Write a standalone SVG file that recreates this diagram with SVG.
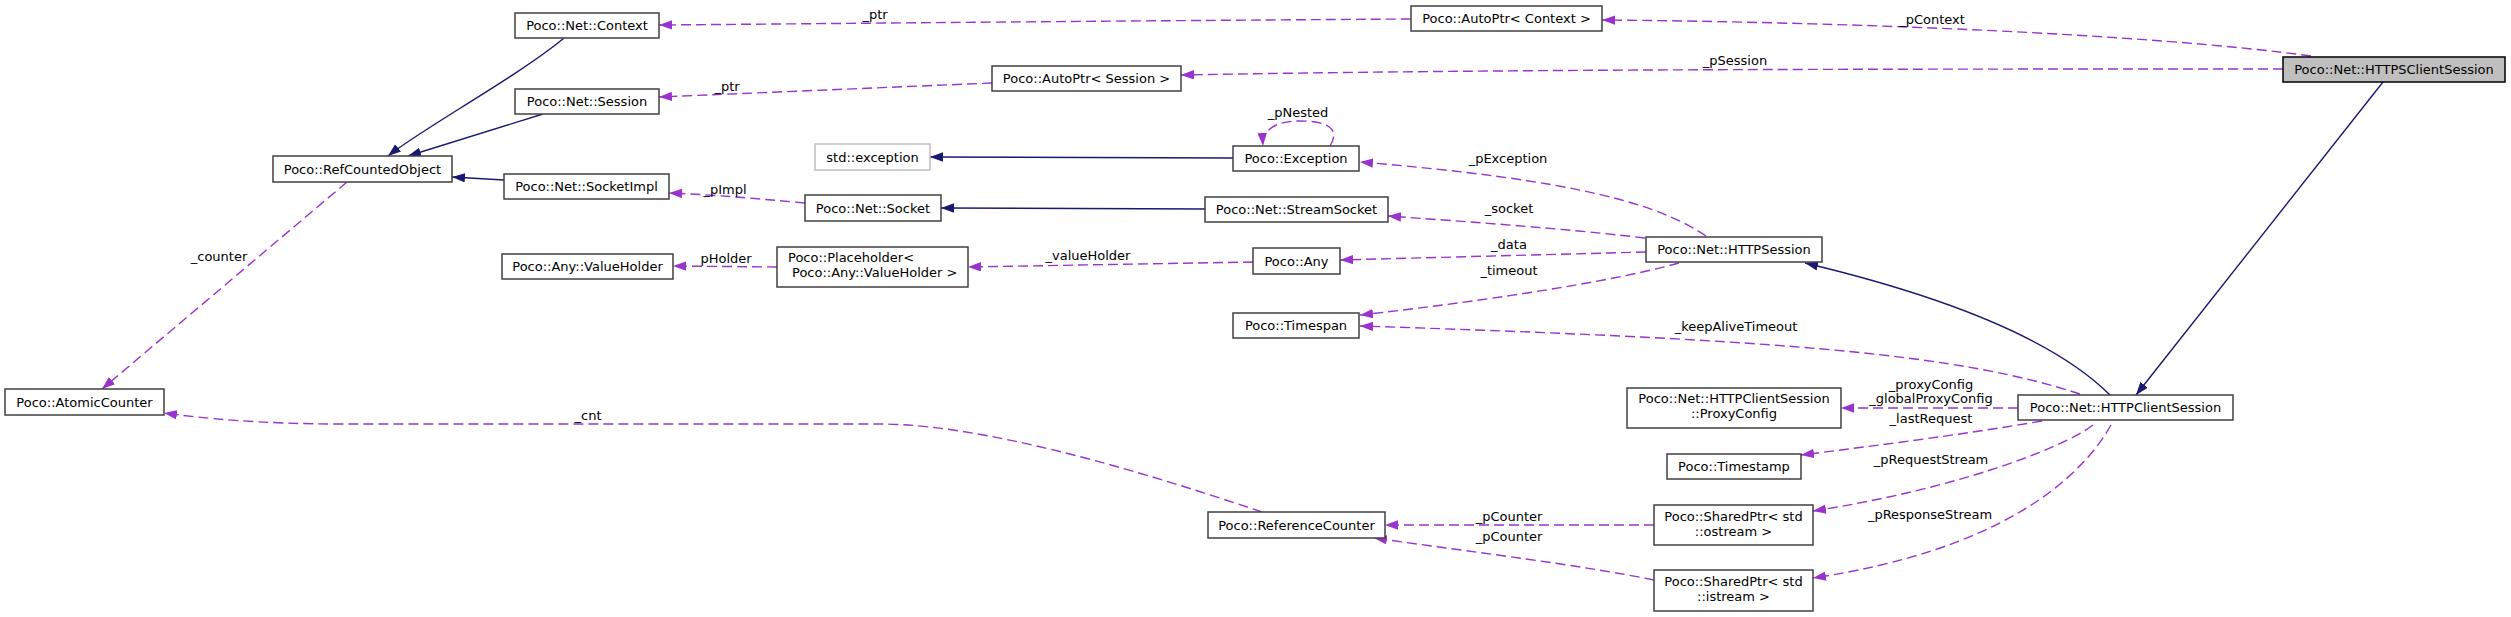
<svg xmlns="http://www.w3.org/2000/svg" width="2511" height="617" viewBox="0 0 2511 617">
<style>
  .n rect { fill: #ffffff; stroke: #404040; stroke-width: 1.5; }
  .n text, .lbl { font-family: "DejaVu Sans", "Liberation Sans", sans-serif; font-size: 13px; fill: #000000; }
  .n text { text-anchor: middle; }
  .lbl { text-anchor: middle; }
  .ext rect { stroke: #bfbfbf; }
  .root rect { fill: #bfbfbf; stroke: #000000; }
  .inh { fill: none; stroke: #191970; stroke-width: 1.4; marker-end: url(#ah-blue); }
  .use { fill: none; stroke: #9a32cd; stroke-width: 1.4; stroke-dasharray: 10,5; marker-end: url(#ah-purple); }
</style>
<defs>
  <marker id="ah-blue" markerUnits="userSpaceOnUse" markerWidth="14" markerHeight="10" refX="13" refY="4.7" orient="auto">
    <path d="M0,0 L13,4.7 L0,9.4 z" fill="#191970"/>
  </marker>
  <marker id="ah-purple" markerUnits="userSpaceOnUse" markerWidth="14" markerHeight="10" refX="13" refY="4.7" orient="auto">
    <path d="M0,0 L13,4.7 L0,9.4 z" fill="#9a32cd"/>
  </marker>
</defs>
<rect x="0" y="0" width="2511" height="617" fill="#ffffff"/>

<g id="connectors">
  <path class="use" d="M347,182 L102,389"/>
  <path class="inh" d="M564,38 C520,75 420,130 388,156"/>
  <path class="inh" d="M543,114 L408,156"/>
  <path class="inh" d="M504,180 L452,177"/>
  <path class="use" d="M1411,19 C1100,21 900,23 659,25"/>
  <path class="use" d="M992,83 L659,97"/>
  <path class="use" d="M2311,56 C2150,34 1850,22 1602,20"/>
  <path class="use" d="M2283,69 C1900,69 1500,69 1181,75"/>
  <path class="inh" d="M2383,82 L2136,395"/>
  <path class="inh" d="M2110,395 C2060,345 1960,300 1805,263"/>
  <path class="inh" d="M1233,158 L930,157"/>
  <path class="inh" d="M1205,209 L941,208"/>
  <path class="use" d="M1330,146 C1340,130 1330,121 1300,121 C1275,121 1262,130 1263,146"/>
  <path class="use" d="M1706,236 C1660,205 1580,180 1360,162"/>
  <path class="use" d="M1645,238 C1560,228 1470,222 1388,216"/>
  <path class="use" d="M1646,252 L1340,260"/>
  <path class="use" d="M1679,263 C1600,285 1450,305 1360,315"/>
  <path class="use" d="M2080,394 C1960,355 1800,340 1360,326"/>
  <path class="use" d="M1253,262 L968,267"/>
  <path class="use" d="M777,267 L673,266"/>
  <path class="use" d="M805,203 C760,199 720,195 669,193"/>
  <path class="use" d="M2018,408 L1841,408"/>
  <path class="use" d="M2042,421 C1960,435 1880,445 1801,455"/>
  <path class="use" d="M2093,425 C2060,450 1950,490 1813,511"/>
  <path class="use" d="M2111,425 C2080,480 2000,550 1813,578"/>
  <path class="use" d="M1654,525 L1385,525"/>
  <path class="use" d="M1654,580 C1580,565 1480,553 1374,538"/>
  <path class="use" d="M1262,512 C1190,488 1000,424 880,424 L340,424 C260,424 200,418 164,413"/>

  <text class="lbl" x="219" y="261">_counter</text>
  <text class="lbl" x="875" y="19">_ptr</text>
  <text class="lbl" x="727" y="91">_ptr</text>
  <text class="lbl" x="1932" y="24">_pContext</text>
  <text class="lbl" x="1735" y="65">_pSession</text>
  <text class="lbl" x="1298" y="117">_pNested</text>
  <text class="lbl" x="1508" y="163">_pException</text>
  <text class="lbl" x="725" y="194">_pImpl</text>
  <text class="lbl" x="1509" y="213">_socket</text>
  <text class="lbl" x="1509" y="249">_data</text>
  <text class="lbl" x="1088" y="260">_valueHolder</text>
  <text class="lbl" x="726" y="263">pHolder</text>
  <text class="lbl" x="1509" y="275">_timeout</text>
  <text class="lbl" x="1736" y="331">_keepAliveTimeout</text>
  <text class="lbl" x="1931" y="389">_proxyConfig</text>
  <text class="lbl" x="1931" y="403">_globalProxyConfig</text>
  <text class="lbl" x="588" y="420">_cnt</text>
  <text class="lbl" x="1931" y="423">_lastRequest</text>
  <text class="lbl" x="1931" y="464">_pRequestStream</text>
  <text class="lbl" x="1930" y="519">_pResponseStream</text>
  <text class="lbl" x="1509" y="521">_pCounter</text>
  <text class="lbl" x="1509" y="541">_pCounter</text>
</g>

<g id="node-AtomicCounter" class="n"><rect x="5" y="389" width="159" height="26"/><text x="84.5" y="406.5">Poco::AtomicCounter</text></g>
<g id="node-RefCountedObject" class="n"><rect x="273" y="156" width="179" height="26"/><text x="362.5" y="173.5">Poco::RefCountedObject</text></g>
<g id="node-Context" class="n"><rect x="515" y="13" width="144" height="25"/><text x="587" y="30">Poco::Net::Context</text></g>
<g id="node-Session" class="n"><rect x="515" y="89" width="144" height="25"/><text x="587" y="106">Poco::Net::Session</text></g>
<g id="node-SocketImpl" class="n"><rect x="504" y="174" width="165" height="25"/><text x="586.5" y="191">Poco::Net::SocketImpl</text></g>
<g id="node-AnyValueHolder" class="n"><rect x="502" y="254" width="171" height="25"/><text x="587.5" y="271">Poco::Any::ValueHolder</text></g>
<g id="node-Placeholder" class="n"><rect x="777" y="247" width="191" height="40"/><text x="788" y="262" style="text-anchor:start">Poco::Placeholder&lt;</text><text x="792" y="277" style="text-anchor:start">Poco::Any::ValueHolder &gt;</text></g>
<g id="node-AutoPtrContext" class="n"><rect x="1411" y="6" width="191" height="25"/><text x="1506.5" y="23">Poco::AutoPtr&lt; Context &gt;</text></g>
<g id="node-AutoPtrSession" class="n"><rect x="992" y="66" width="189" height="25"/><text x="1086.5" y="83">Poco::AutoPtr&lt; Session &gt;</text></g>
<g id="node-stdexception" class="n ext"><rect x="815" y="144" width="115" height="26"/><text x="872.5" y="161.5">std::exception</text></g>
<g id="node-Exception" class="n"><rect x="1233" y="146" width="126" height="25"/><text x="1296" y="163">Poco::Exception</text></g>
<g id="node-Socket" class="n"><rect x="805" y="195" width="136" height="26"/><text x="873" y="212.5">Poco::Net::Socket</text></g>
<g id="node-StreamSocket" class="n"><rect x="1205" y="197" width="183" height="25"/><text x="1296.5" y="214">Poco::Net::StreamSocket</text></g>
<g id="node-Any" class="n"><rect x="1253" y="248" width="87" height="26"/><text x="1296.5" y="265.5">Poco::Any</text></g>
<g id="node-HTTPSession" class="n"><rect x="1646" y="237" width="176" height="25"/><text x="1734" y="254">Poco::Net::HTTPSession</text></g>
<g id="node-Timespan" class="n"><rect x="1233" y="313" width="126" height="25"/><text x="1296" y="330">Poco::Timespan</text></g>
<g id="node-ReferenceCounter" class="n"><rect x="1208" y="512" width="177" height="26"/><text x="1296.5" y="529.5">Poco::ReferenceCounter</text></g>
<g id="node-ProxyConfig" class="n"><rect x="1627" y="388" width="214" height="40"/><text x="1734" y="403">Poco::Net::HTTPClientSession</text><text x="1734" y="418">::ProxyConfig</text></g>
<g id="node-HTTPClientSession" class="n"><rect x="2018" y="395" width="215" height="25"/><text x="2125.5" y="412">Poco::Net::HTTPClientSession</text></g>
<g id="node-Timestamp" class="n"><rect x="1667" y="454" width="134" height="25"/><text x="1734" y="471">Poco::Timestamp</text></g>
<g id="node-SharedPtrOstream" class="n"><rect x="1654" y="505" width="159" height="40"/><text x="1733.5" y="521">Poco::SharedPtr&lt; std</text><text x="1733.5" y="536">::ostream &gt;</text></g>
<g id="node-SharedPtrIstream" class="n"><rect x="1654" y="570" width="159" height="41"/><text x="1733.5" y="586">Poco::SharedPtr&lt; std</text><text x="1733.5" y="601">::istream &gt;</text></g>
<g id="node-HTTPSClientSession" class="n root"><rect x="2283" y="57" width="222" height="25"/><text x="2394" y="74">Poco::Net::HTTPSClientSession</text></g>
</svg>
